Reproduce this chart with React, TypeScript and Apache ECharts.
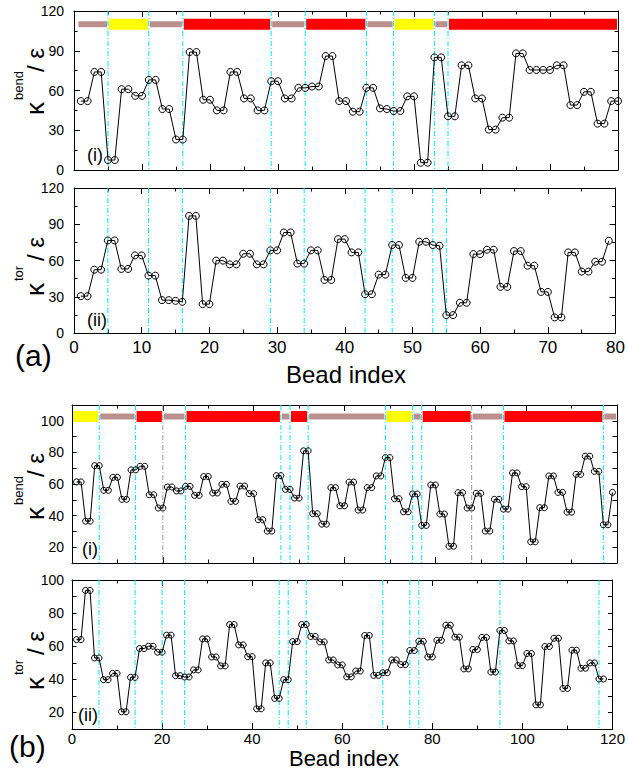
import React, { useEffect, useRef } from "react";
import * as echarts from "echarts";

// ---------- data ----------
const aBend = [
  52, 52, 74, 74, 7.5, 7.5, 61, 61, 56, 56,
  68, 68, 46, 46, 23, 23, 89, 89, 53, 53,
  45, 45, 74, 74, 54, 54, 45, 45, 67, 67,
  54, 54, 62, 62, 63, 63, 86, 86, 52, 52,
  44, 44, 62, 62, 46.5, 46, 44.5, 44.5, 55.6, 55.6,
  5.5, 5.5, 85, 85, 40.5, 40.5, 79, 79, 54, 54,
  30.5, 30.5, 39.5, 39.5, 88, 88, 75.5, 75.5, 75.5, 75.5,
  79, 79, 49, 49, 59, 59, 35, 35, 52, 52,
];
const aTor = [
  30.5, 30.5, 52.4, 52.4, 76.6, 76.6, 53, 53, 64.2, 64.2,
  47.5, 47.5, 27.2, 27.2, 26.6, 25.8, 96.9, 96.9, 23.9, 23.9,
  59.9, 59.9, 56.8, 56.8, 65.6, 65.6, 56.8, 56.8, 68.4, 68.4,
  83.2, 83.2, 57.4, 57.4, 68.4, 68.4, 43.9, 43.9, 77.7, 77.7,
  66.7, 66.7, 32.1, 32.1, 48.3, 48.3, 72.8, 72.8, 45.6, 45.6,
  75.5, 75.5, 72.8, 72.2, 14.8, 14.8, 25, 25, 65.3, 65.3,
  68.9, 68.9, 38.2, 38.2, 67.8, 67.8, 55.7, 55.7, 34, 34,
  12.9, 12.9, 66.7, 66.7, 50.8, 50.8, 59, 59, 76.3,
];
const bBend = [
  61.3, 61.3, 36.5, 36.5, 71.6, 71.6, 56, 56, 64.2, 64.2,
  50.3, 50.3, 68.9, 68.9, 71.2, 71.2, 53.2, 53.2, 44.8, 44.8,
  58.1, 58.1, 55.6, 55.6, 58.5, 58.5, 52.8, 52.8, 64.7, 64.7,
  54.3, 54.3, 59.8, 59.8, 49, 49, 58.7, 58.7, 53.9, 53.9,
  37.4, 37.4, 30.2, 30.2, 65.3, 65.3, 56.6, 56.6, 51.1, 51.1,
  81, 81, 41.2, 41.2, 34.6, 34.6, 57.7, 57.7, 46.2, 46.2,
  61.2, 61.2, 43.5, 43.5, 57.7, 57.7, 65.1, 65.1, 76.7, 76.7,
  50.7, 50.7, 42.4, 42.4, 53.7, 53.7, 33.8, 33.8, 59.4, 59.4,
  41, 41, 20.6, 20.6, 54.5, 54.5, 44.8, 44.8, 54.1, 54.1,
  30.2, 30.2, 50.3, 50.3, 44.1, 44.1, 67, 67, 58.3, 58.3,
  23.4, 23.4, 45, 45, 65.1, 65.1, 54.7, 54.7, 42.2, 42.2,
  66.1, 66.1, 77.6, 77.6, 68, 68, 34.2, 34.2, 54.7,
];
const bTor = [
  64, 64, 93.7, 93.7, 52.9, 52.9, 39.8, 39.8, 43.6, 43.6,
  20.4, 20.4, 41.2, 41.2, 58.6, 58.6, 60, 60, 56.4, 56.4,
  66.7, 66.7, 42.2, 42.2, 41.4, 41.4, 45.7, 45.7, 64.4, 64.4,
  53.5, 53.5, 48.1, 48.1, 73.1, 73.1, 60.8, 60.8, 53.7, 53.7,
  22.2, 22.2, 49.9, 49.9, 28.5, 28.5, 39.8, 39.8, 62.8, 62.8,
  73.1, 73.1, 65.9, 65.9, 62.6, 62.6, 51.7, 51.7, 48.7, 48.7,
  41.5, 41.5, 45, 45, 66.5, 66.5, 42.4, 42.4, 44, 44,
  51.7, 51.7, 48.9, 48.9, 57.4, 57.4, 63, 63, 53.5, 53.5,
  63.6, 63.6, 72.7, 72.7, 65.5, 65.5, 46.3, 46.3, 58, 58,
  65.3, 65.3, 44.4, 44.4, 69.5, 69.5, 63.2, 63.2, 48.3, 48.3,
  55.6, 55.6, 24.6, 24.6, 59.8, 59.8, 64.8, 64.8, 34.5, 34.5,
  57.6, 57.6, 46.7, 46.7, 49.9, 49.9, 40.2, 40.2,
];

// secondary-structure segments: [start, end, type]
const aSegments: [number, number, string][] = [
  [0.5, 5, "coil"], [5, 11, "strand"], [11, 16, "coil"], [16, 29, "helix"],
  [29, 34, "coil"], [34, 43, "helix"], [43, 47, "coil"], [47, 53, "strand"],
  [53, 55, "coil"], [55, 80, "helix"],
];
const bSegments: [number, number, string][] = [
  [0, 6, "strand"], [6, 14, "coil"], [14, 20, "helix"], [20, 25, "coil"],
  [25, 46, "helix"], [46, 48, "coil"], [48, 52, "helix"], [52, 69, "coil"],
  [69, 75, "strand"], [75, 77, "coil"], [77, 88, "helix"], [88, 95, "coil"],
  [95, 117, "helix"], [117, 120, "coil"],
];
const aBarLevel = 110;
const bBarLevel = 102.7;

// boundary lines: [x, kind] kind 0 = cyan, 1 = gray
const aLines = [5, 11, 16, 29, 34, 43, 47, 53, 55];
const bBendLines: [number, number][] = [
  [6, 0], [14, 0], [20, 1], [25, 0], [46, 0], [48, 0], [52, 0],
  [69, 0], [75, 0], [77, 0], [88, 1], [95, 0], [117, 0],
];
const bTorLines = [6, 14, 20, 25, 46, 48, 52, 69, 75, 77, 95, 117];

const aXTicks = { min: 0, max: 80, interval: 10 };
const bXTicks = { min: 0, max: 120, interval: 20 };
const aYTicks = { min: 0, max: 120, interval: 30 };
const bBendY = { min: 10, max: 110, interval: 10 };
const bTorY = { min: 10, max: 100, interval: 10 };

// ---------- styling ----------
const F = "'Liberation Sans', Arial, Helvetica, sans-serif";
const SEG_COLORS: Record<string, string> = { coil: "#bc8f8f", strand: "#ffff00", helix: "#ff0000" };
const SEG_H: Record<string, number> = { coil: 6, strand: 11, helix: 11 };

function App() {
  const ref = useRef<HTMLDivElement>(null);
  useEffect(() => {
    document.body.style.margin = "0";
    if (!ref.current) return;
    const chart = echarts.init(ref.current, null, { renderer: "svg" });

    const grids = [
      { left: 74, top: 11, width: 544, height: 159 },
      { left: 74, top: 188, width: 544, height: 145 },
      { left: 72, top: 405, width: 545, height: 158 },
      { left: 72, top: 580, width: 545, height: 149 },
    ];
    const xCfg = [aXTicks, aXTicks, bXTicks, bXTicks];
    const yCfg = [aYTicks, aYTicks, bBendY, bTorY];
    const showXLab = [false, true, false, true];
    const xFs = [17, 17, 15, 15];
    const xMargin = [6, 6, 2, 2];

    const line = { show: true, lineStyle: { color: "#000", width: 1 } };
    const xAxis: any[] = [];
    const yAxis: any[] = [];
    ["bottom", "top"].forEach((pos) => {
      grids.forEach((_, gi) => {
        xAxis.push({
          gridIndex: gi,
          type: "value",
          position: pos,
          ...xCfg[gi],
          axisLine: { ...line, onZero: false },
          axisTick: { show: true, inside: true, length: 6, lineStyle: { color: "#000" } },
          minorTick: { show: true, splitNumber: 2, length: 3.5, lineStyle: { color: "#000" } },
          splitLine: { show: false },
          axisLabel: {
            show: pos === "bottom" && showXLab[gi],
            fontSize: xFs[gi],
            fontFamily: F,
            color: "#000",
            margin: xMargin[gi],
          },
        });
      });
    });
    ["left", "right"].forEach((pos) => {
      grids.forEach((_, gi) => {
        const isA = gi < 2;
        yAxis.push({
          gridIndex: gi,
          type: "value",
          position: pos,
          ...yCfg[gi],
          axisLine: { ...line, onZero: false },
          axisTick: { show: true, inside: true, length: isA ? 6 : 4.5, lineStyle: { color: "#000" } },
          minorTick: { show: isA, splitNumber: 2, length: 3.5, lineStyle: { color: "#000" } },
          splitLine: { show: false },
          axisLabel: {
            show: pos === "left",
            fontSize: 14,
            fontFamily: F,
            color: "#000",
            margin: isA ? 10 : 8,
            formatter: (v: number) => (isA || v % 20 === 0 ? String(v) : ""),
          },
        });
      });
    });

    const lineSeries = (gi: number, vals: number[], size: number) => ({
      type: "line",
      xAxisIndex: gi,
      yAxisIndex: gi,
      data: vals.map((v, i) => [i + 1, v]),
      symbol: "circle",
      symbolSize: size,
      showAllSymbol: true,
      itemStyle: { color: "rgba(0,0,0,0)", borderColor: "#000", borderWidth: 1 },
      lineStyle: { color: "#000", width: 1 },
      z: 5,
      silent: true,
    });

    const segSeries = (gi: number, segs: [number, number, string][], level: number) => ({
      type: "custom",
      xAxisIndex: gi,
      yAxisIndex: gi,
      data: segs.map(([s, e]) => [s, e, level]),
      encode: { x: [0, 1], y: 2 },
      renderItem: (params: any, api: any) => {
        const t = segs[params.dataIndex][2];
        const s = api.coord([api.value(0), api.value(2)]);
        const e = api.coord([api.value(1), api.value(2)]);
        const h = SEG_H[t];
        return {
          type: "rect",
          shape: { x: s[0] + 1, y: s[1] - h / 2, width: e[0] - s[0] - 2, height: h },
          style: { fill: SEG_COLORS[t] },
        };
      },
      z: 3,
      silent: true,
    });

    const vlineSeries = (gi: number, xs: [number, number][], ymid: number) => ({
      type: "custom",
      xAxisIndex: gi,
      yAxisIndex: gi,
      data: xs.map(([x, k]) => [x, ymid, k]),
      encode: { x: 0, y: 1 },
      renderItem: (params: any, api: any) => {
        const p = api.coord([api.value(0), api.value(1)]);
        const cs = params.coordSys;
        return {
          type: "line",
          shape: { x1: p[0], y1: cs.y, x2: p[0], y2: cs.y + cs.height },
          style: {
            stroke: api.value(2) === 1 ? "#9a9a9a" : "#00e8f0",
            lineWidth: 1,
            lineDash: [5, 2, 1, 2],
          },
        };
      },
      z: 1,
      silent: true,
    });

    const ylab = (x: number, y: number, sup: string) => ({
      type: "group",
      x,
      y,
      rotation: Math.PI / 2,
      children: [
        { type: "text", x: 0, y: 0, style: { text: "κ", fontSize: 26, fontFamily: F, fill: "#000", align: "left", verticalAlign: "middle" } },
        { type: "text", x: 15, y: -17, style: { text: sup, fontSize: 13, fontFamily: F, fill: "#000", align: "left", verticalAlign: "middle" } },
        { type: "text", x: sup === "bend" ? 43 : 35, y: 0, style: { text: "/ ε", fontSize: 24, fontFamily: F, fill: "#000", align: "left", verticalAlign: "middle" } },
      ],
    });
    const txt = (x: number, y: number, text: string, fs: number, align = "left") => ({
      type: "text",
      x,
      y,
      style: { text, fontSize: fs, fontFamily: F, fill: "#000", align, verticalAlign: "middle" },
    });

    chart.setOption({
      animation: false,
      backgroundColor: "#fff",
      grid: grids,
      xAxis,
      yAxis,
      series: [
        vlineSeries(0, aLines.map((x) => [x, 0] as [number, number]), 60),
        vlineSeries(1, aLines.map((x) => [x, 0] as [number, number]), 60),
        vlineSeries(2, bBendLines, 60),
        vlineSeries(3, bTorLines.map((x) => [x, 0] as [number, number]), 60),
        segSeries(0, aSegments, aBarLevel),
        segSeries(2, bSegments, bBarLevel),
        lineSeries(0, aBend, 7),
        lineSeries(1, aTor, 7),
        lineSeries(2, bBend, 6),
        lineSeries(3, bTor, 6),
      ],
      graphic: [
        ylab(35, 115, "bend"),
        ylab(35, 296, "tor"),
        ylab(35, 520, "bend"),
        ylab(35, 690, "tor"),
        txt(87, 155, "(i)", 18),
        txt(87, 320, "(ii)", 18),
        txt(82, 549, "(i)", 18),
        txt(78, 715, "(ii)", 18),
        txt(15, 355, "(a)", 30),
        txt(9, 746, "(b)", 30),
        txt(346, 374, "Bead index", 24, "center"),
        txt(344, 758.5, "Bead index", 22, "center"),
      ],
    });
    return () => chart.dispose();
  }, []);
  return <div ref={ref} style={{ width: 628, height: 771 }} />;
}

export default App;
